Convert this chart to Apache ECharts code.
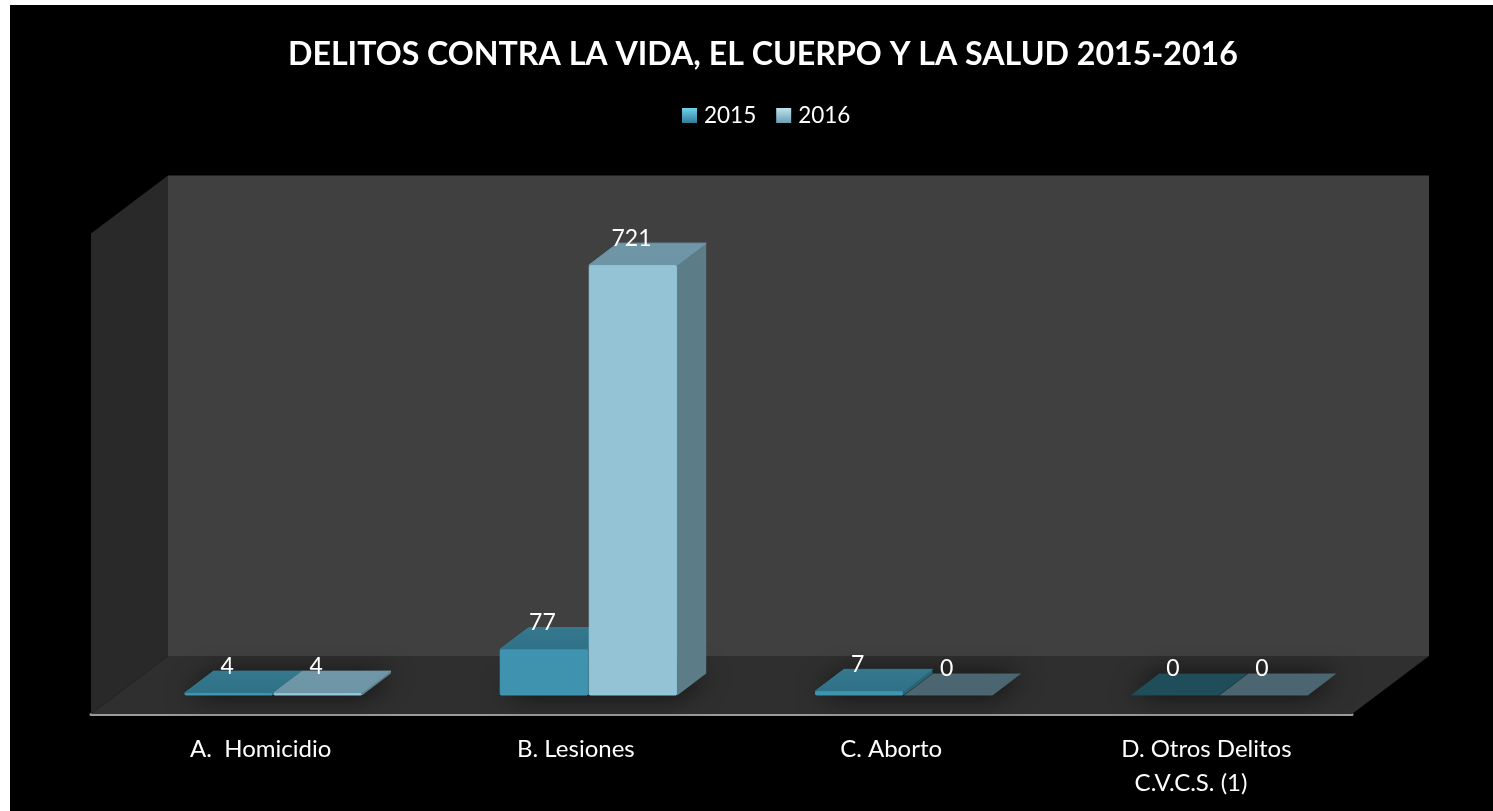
<!DOCTYPE html>
<html><head><meta charset="utf-8">
<style>html,body{margin:0;padding:0;background:#fff;width:1493px;height:811px;overflow:hidden}
#bg{position:absolute;left:10px;top:5px;right:0;bottom:0;background:#000}
#c{position:absolute;left:0;top:0;width:1493px;height:811px}</style>
<script src="https://cdn.jsdelivr.net/npm/echarts@6/dist/echarts.min.js"></script>
</head><body><div id="bg"></div><div id="c"></div>
<script>
const chartTitle = 'DELITOS CONTRA LA VIDA, EL CUERPO Y LA SALUD 2015-2016';
const categories = ['A.  Homicidio', 'B. Lesiones', 'C. Aborto', 'D. Otros Delitos\nC.V.C.S. (1)'];
const seriesNames = ['2015', '2016'];
const values2015 = [4, 77, 7, 0];
const values2016 = [4, 721, 0, 0];

const FONT = 'Lato, Carlito, Calibri, sans-serif';
const WALL_DX = 77, WALL_DY = 58;
const BAR_OFF_X = 24.6, BAR_OFF_Y = 18.5, BAR_DX = 29, BAR_DY = 22;
const palette = [
  {front:'#3f93ae', edge:'#3f9ab6', top:['#35798f','#2f7186'], side:'#2a6577', zero:'#1f4d5a'},
  {front:'#93c3d5', edge:'#8fcbdf', top:['#7097a8','#6c95a6'], side:'#5c7d88', zero:'#4b6670'}
];
const grad = (a,b)=>({type:'linear',x:0,y:0,x2:0,y2:1,colorStops:[{offset:0,color:a},{offset:1,color:b}]});

function barBox(api, idx, val, si){
  const p = api.coord([idx, val]), p0 = api.coord([idx, 0]);
  const band = api.size([1,0])[0];
  const w = band*0.2805, gap = 0.6;
  const x0 = p[0]+BAR_OFF_X + (si===0 ? -w-gap/2 : gap/2);
  return {x0, x1:x0+w, yt:p[1]-BAR_OFF_Y, yb:p0[1]-BAR_OFF_Y};
}
function renderBar(si){
  return function(params, api){
    const idx = api.value(0), val = api.value(1);
    const b = barBox(api, idx, val, si), c = palette[si], ch = [];
    const dx = BAR_DX, dy = BAR_DY;
    if(val===0){
      ch.push({type:'polygon',shape:{points:[[b.x0,b.yb],[b.x1,b.yb],[b.x1+dx,b.yb-dy],[b.x0+dx,b.yb-dy]]},style:{fill:c.zero}});
    }else{
      ch.push({type:'polygon',shape:{points:[[b.x1,b.yt],[b.x1+dx,b.yt-dy],[b.x1+dx,b.yb-dy],[b.x1,b.yb]]},style:{fill:c.side}});
      ch.push({type:'polygon',shape:{points:[[b.x0,b.yt],[b.x1,b.yt],[b.x1+dx,b.yt-dy],[b.x0+dx,b.yt-dy]]},style:{fill:grad(c.top[0],c.top[1]),stroke:c.top[0],lineWidth:1,lineJoin:'round'}});
      ch.push({type:'rect',shape:{x:b.x0+0.5,y:b.yt+0.5,width:b.x1-b.x0-1,height:Math.max(b.yb-b.yt-1,0.6),r:1},style:{fill:c.front,stroke:c.edge,lineWidth:1}});
    }
    const labelY = b.yt-dy-4.5;
    ch.push({type:'text',z2:20,style:{x:(b.x0+b.x1)/2-1.5,y:labelY,text:String(val),fill:'#fff',font:'23px '+FONT,align:'center',verticalAlign:'middle'}});
    return {type:'group',children:ch};
  };
}
function renderShadow(params, api){
  const idx = api.value(0);
  const a = barBox(api, idx, 0, 0), b = barBox(api, idx, 0, 1);
  return {type:'polygon',shape:{points:[[a.x0,a.yb],[b.x1,a.yb],[b.x1+BAR_DX,a.yb-BAR_DY],[a.x0+BAR_DX,a.yb-BAR_DY]]},
    style:{fill:'#1c1c1c',shadowColor:'rgba(0,0,0,0.7)',shadowBlur:26,shadowOffsetX:2}};
}
function renderWalls(params, api){
  const s = params.coordSys, L = s.x, R = s.x+s.width, T = s.y, B = s.y+s.height;
  return {type:'group',children:[
    {type:'polygon',shape:{points:[[L+WALL_DX,T-WALL_DY],[R+WALL_DX,T-WALL_DY],[R+WALL_DX,B-WALL_DY],[L+WALL_DX,B-WALL_DY]]},style:{fill:'#404040'}},
    {type:'polygon',shape:{points:[[L,T],[L+WALL_DX,T-WALL_DY],[L+WALL_DX,B-WALL_DY],[L,B]]},style:{fill:'#292929'}},
    {type:'polygon',shape:{points:[[L,B],[L+WALL_DX,B-WALL_DY],[R+WALL_DX,B-WALL_DY],[R,B]]},style:{fill:'#2f2f2f'}}
  ]};
}
const chart = echarts.init(document.getElementById('c'), null, {renderer:'canvas'});
chart.setOption({
  backgroundColor:'transparent',
  animation:false,
  title:{text:chartTitle,left:283,top:34,textStyle:{color:'#fff',fontFamily:FONT,fontWeight:'bold',fontSize:32.15}},
  legend:{
    top:99,left:677,itemWidth:15,itemHeight:15,itemGap:20,icon:'rect',
    textStyle:{color:'#fff',fontFamily:FONT,fontSize:22.5,padding:[0,0,0,2]},
    data:[
      {name:seriesNames[0],itemStyle:{color:grad('#6fd2ec','#2f7d96')}},
      {name:seriesNames[1],itemStyle:{color:grad('#bfe3ef','#6b9fb2')}}
    ]
  },
  grid:{left:91,top:233.5,width:1261,height:480.5,containLabel:false},
  xAxis:{type:'category',data:categories,axisTick:{show:false},
    axisLine:{show:true,onZero:false,lineStyle:{color:'#9a9a9a',width:3}},
    axisLabel:{color:'#fff',fontFamily:FONT,fontSize:24,margin:18,padding:[0,0,0,24],lineHeight:34,interval:0,
      formatter:v=>v.replace('C.V.C.S. (1)','C.V.C.S. (1)\u00a0\u00a0\u00a0\u00a0\u00a0')}},
  yAxis:{type:'value',min:0,max:805,show:false,splitLine:{show:false}},
  series:[
    {type:'custom',name:'walls',silent:true,z:1,data:[[0,0]],renderItem:renderWalls,encode:{x:0,y:1}},
    {type:'custom',name:'shadow',silent:true,z:1,data:categories.map((_,i)=>[i,0]),renderItem:renderShadow,encode:{x:0,y:1}},
    {type:'custom',name:seriesNames[0],z:2,data:values2015.map((v,i)=>[i,v]),renderItem:renderBar(0),encode:{x:0,y:1}},
    {type:'custom',name:seriesNames[1],z:2,data:values2016.map((v,i)=>[i,v]),renderItem:renderBar(1),encode:{x:0,y:1}}
  ]
});
</script></body></html>
